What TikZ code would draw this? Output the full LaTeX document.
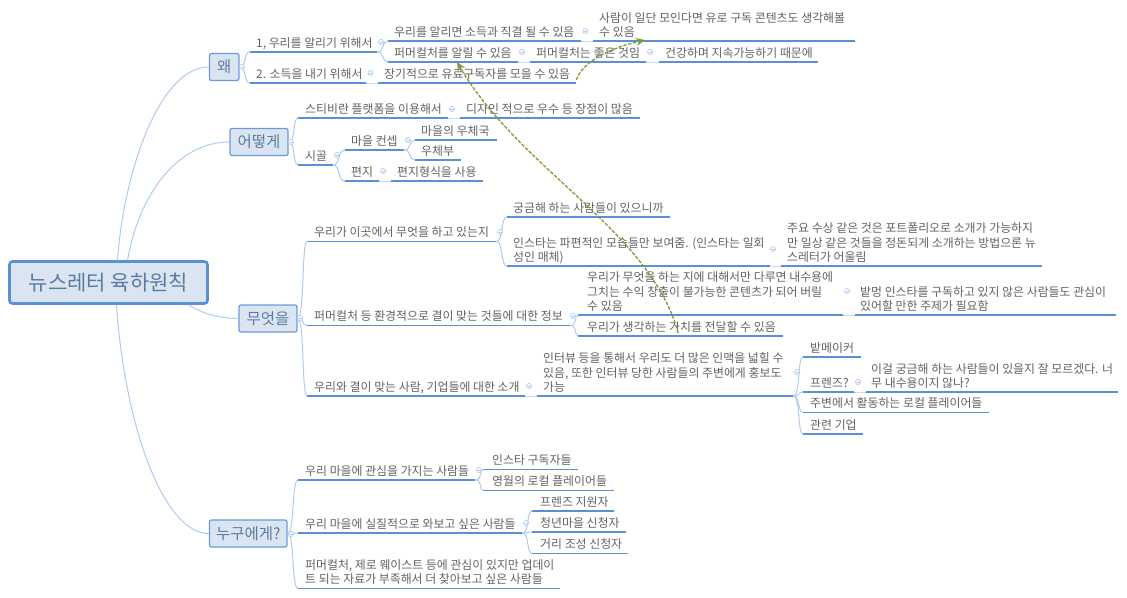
\documentclass[tikz,border=0pt]{standalone}
\usepackage{fontspec}
\setmainfont{Noto Sans CJK KR}
\usetikzlibrary{arrows.meta}
\definecolor{ulc}{HTML}{5B8FD6}
\definecolor{lnk}{HTML}{AECBEE}
\definecolor{boxf}{HTML}{DBE5F2}
\definecolor{txt}{HTML}{626262}
\definecolor{ttl}{HTML}{5A7BA3}
\definecolor{grn}{HTML}{7A9A3C}
\tikzset{
 topic/.style={anchor=south west,inner xsep=0pt,inner ysep=0.2pt,text=txt,font=\fontsize{11.9}{14.3}\selectfont},
 ul/.style={draw=ulc,line width=1.2pt},
 conn/.style={draw=lnk,line width=1pt},
 cz/.style={circle,draw=lnk,line width=.7pt,fill=white,minimum size=5pt,inner sep=0pt,path picture={\draw[lnk,line width=.6pt] ([xshift=1pt]path picture bounding box.west) -- ([xshift=-1pt]path picture bounding box.east);}},
 branch/.style={draw=ulc!90!white,line width=1.2pt,fill=boxf,rounded corners=2pt,inner sep=0pt,text=ttl,font=\fontsize{15.5}{18}\selectfont,minimum height=27pt},
 rootbox/.style={draw=ulc,line width=2.6pt,fill=boxf,rounded corners=3pt,inner sep=0pt,text=ttl,font=\fontsize{21}{24}\selectfont,minimum width=198pt,minimum height=42pt},
 rel/.style={draw=grn,line width=1.3pt,dash pattern=on 3.5pt off 1.5pt,-{Stealth[length=9pt,width=8pt,fill=grn]}},
}
\newcommand\tn[6][6]{\node[topic] (#2) at (#3,#4) {\hbox to #5pt{\hskip#1pt\begin{tabular}[b]{@{}l@{}}#6\end{tabular}\hss}};
 \draw[ul] (#2.south west) -- (#2.south east);}
\newcommand\mk[3]{\node[cz] (#1) at (#2,#3) {};}
\newcommand\cn[2]{\draw[conn] (#1.south east) .. controls ([xshift=7pt]#1.south east) and ([xshift=4pt]#1.south east |- #2.south west) .. (#2.south west);}
\newcommand\cb[2]{\draw[conn] (#1.east) .. controls ([xshift=7pt]#1.east) and ([xshift=4pt]#1.east |- #2.south west) .. (#2.south west);}
\begin{document}
\begin{tikzpicture}[x=1pt,y=-1pt]
\useasboundingbox (0,0) rectangle (1127,597);
\node[rootbox] (root) at (108.5,282.5) {뉴스레터 육하원칙};
\node[branch,minimum width=29.5pt] (why) at (224.2,67) {왜};
\node[branch,minimum width=58pt] (how) at (259,142) {어떻게};
\node[branch,minimum width=58pt] (what) at (268,318.5) {무엇을};
\node[branch,minimum width=77.5pt] (who) at (248.2,533.5) {누구에게?};
\draw[conn] ([xshift=9pt]root.north) .. controls (124,170) and (160,67) .. (why.west);
\draw[conn] ([xshift=19pt]root.north) .. controls (140,190) and (180,142) .. (how.west);
\draw[conn] ([xshift=80pt]root.south) .. controls (205,315) and (220,318) .. (what.west);
\draw[conn] ([xshift=8pt]root.south) .. controls (125,430) and (165,534) .. (who.west);
% why
\tn{a1}{250}{52}{127}{1, 우리를 알리기 위해서}
\tn{a11}{388}{41}{193}{우리를 알리면 소득과 직결 될 수 있음}
\tn{a111}{593}{41}{262}{사람이 일단 모인다면 유로 구독 콘텐츠도 생각해볼\\수 있음}
\tn{a12}{388}{62}{130}{퍼머컬처를 알릴 수 있음}
\tn{a121}{530}{62}{116}{퍼머컬처는 좋은 것임}
\tn{a122}{659}{62}{159}{건강하며 지속가능하기 때문에}
\tn{a2}{250}{83}{116}{2. 소득을 내기 위해서}
\tn{a21}{378}{83}{198}{장기적으로 유료구독자를 모을 수 있음}
\cb{why}{a1}\cb{why}{a2}\cn{a1}{a11}\cn{a1}{a12}\cn{a11}{a111}\cn{a12}{a121}\cn{a121}{a122}\cn{a2}{a21}
\mk{ma0}{242}{67}\mk{ma1}{381}{42}\mk{ma11}{585.5}{31}\mk{ma12}{522}{52}\mk{ma121}{650}{52}\mk{ma2}{370.5}{73}
% how
\tn[7]{b1}{298}{118}{150}{스티비란 플랫폼을 이용해서}
\tn{b11}{460}{118}{180}{디자인 적으로 우수 등 장점이 많음}
\tn[7]{b2}{298}{165}{35}{시골}
\tn{b21}{345}{150}{59}{마을 컨셉}
\tn{b211}{415}{140}{82}{마을의 우체국}
\tn{b212}{415}{160}{46}{우체부}
\tn{b22}{345}{181}{34}{편지}
\tn{b221}{391}{181}{92}{편지형식을 사용}
\cb{how}{b1}\cb{how}{b2}\cn{b1}{b11}\cn{b2}{b21}\cn{b2}{b22}\cn{b21}{b211}\cn{b21}{b212}\cn{b22}{b221}
\mk{mb0}{291}{142}\mk{mb1}{452}{109}\mk{mb2}{337}{155}\mk{mb21}{408}{140}\mk{mb22}{383}{171}
% what
\tn[7]{c1}{307}{241.5}{189}{우리가 이곳에서 무엇을 하고 있는지}
\tn{c11}{507}{217}{163}{궁금해 하는 사람들이 있으니까}
\tn{c12}{507}{266}{263}{인스타는 파편적인 모습들만 보여줌. (인스타는 일회\\성인 매체)}
\tn{c121}{781}{266}{261}{주요 수상 같은 것은 포트폴리오로 소개가 가능하지\\만 일상 같은 것들을 정돈되게 소개하는 방법으론 뉴\\스레터가 어울림}
\tn[7]{c2}{307}{325.5}{263}{퍼머컬처 등 환경적으로 결이 맞는 것들에 대한 정보}
\tn[9]{c21}{578}{315}{265}{우리가 무엇을 하는 지에 대해서만 다루면 내수용에\\그치는 수익 창출이 불가능한 콘텐츠가 되어 버릴\\수 있음}
\tn[5]{c211}{855}{315}{261}{밭멍 인스타를 구독하고 있지 않은 사람들도 관심이\\있어할 만한 주제가 필요함}
\tn[9]{c22}{578}{336}{205}{우리가 생각하는 가치를 전달할 수 있음}
\tn[7]{c3}{307}{396}{218}{우리와 결이 맞는 사람, 기업들에 대한 소개}
\tn{c31}{537}{396}{256}{인터뷰 등을 통해서 우리도 더 많은 인맥을 넓힐 수\\있음, 또한 인터뷰 당한 사람들의 주변에게 홍보도\\가능}
\tn[7]{c311}{803}{357}{58}{밭메이커}
\tn[7]{c312}{803}{392}{51}{프렌즈?}
\tn[5]{c3121}{866}{392}{252}{이걸 궁금해 하는 사람들이 있을지 잘 모르겠다. 너\\무 내수용이지 않나?}
\tn[7]{c313}{803}{412.5}{186}{주변에서 활동하는 로컬 플레이어들}
\tn[7]{c314}{803}{434}{60}{관련 기업}
\cb{what}{c1}\cb{what}{c2}\cb{what}{c3}\cn{c1}{c11}\cn{c1}{c12}\cn{c12}{c121}\cn{c2}{c21}\cn{c2}{c22}\cn{c21}{c211}\cn{c3}{c31}\cn{c31}{c311}\cn{c31}{c312}\cn{c31}{c313}\cn{c31}{c314}\cn{c312}{c3121}
\mk{mc0}{300}{318}\mk{mc1}{500}{232}\mk{mc12}{773}{249}\mk{mc2}{573}{316}\mk{mc21}{847}{291}\mk{mc3}{529}{386}\mk{mc31}{797}{372}\mk{mc312}{858}{382}
% who
\tn[7]{d1}{298}{480}{177}{우리 마을에 관심을 가지는 사람들}
\tn[9]{d11}{483}{469.5}{95}{인스타 구독자들}
\tn[9]{d12}{483}{490.5}{131}{영월의 로컬 플레이어들}
\tn[7]{d2}{298}{533}{224}{우리 마을에 실질적으로 와보고 싶은 사람들}
\tn[8]{d21}{532}{511}{82}{프렌즈 지원자}
\tn[8]{d22}{532}{532}{94}{청년마을 신청자}
\tn[8]{d23}{532}{553.5}{96}{거리 조성 신청자}
\tn[7]{d3}{298}{588.5}{262}{퍼머컬처, 제로 웨이스트 등에 관심이 있지만 업데이\\트 되는 자료가 부족해서 더 찾아보고 싶은 사람들}
\cb{who}{d1}\cb{who}{d2}\cb{who}{d3}\cn{d1}{d11}\cn{d1}{d12}\cn{d2}{d21}\cn{d2}{d22}\cn{d2}{d23}
\mk{md0}{291}{534}\mk{md1}{479}{470}\mk{md2}{526}{523}
% relationships
\coordinate (ra) at (645,40);
\coordinate (rb) at (457,62);
\draw[rel] ([yshift=3pt]a21.south east) .. controls (582,62) and (610,48) .. (ra);
\draw[rel] ([xshift=-2.5pt,yshift=3pt]c22.south) .. controls (650,230) and (520,170) .. (rb);
\end{tikzpicture}
\end{document}
